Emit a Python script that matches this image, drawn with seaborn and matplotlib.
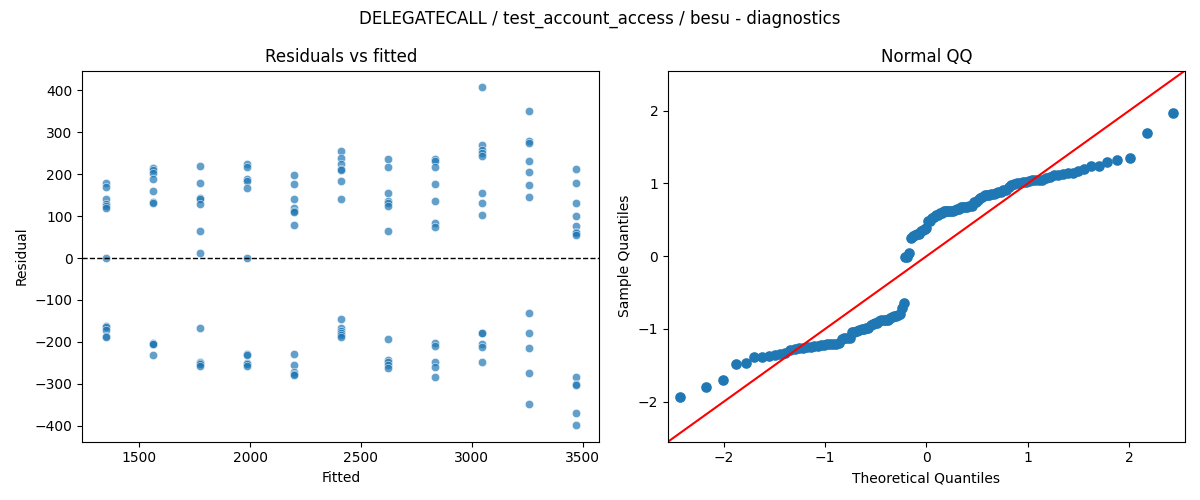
import numpy as np
import pandas as pd
import matplotlib
matplotlib.use('Agg')
import matplotlib.pyplot as plt
import seaborn as sns
from statistics import NormalDist

# fitted values (one per run group) and residuals
fitted_levels = [1349, 1561, 1773, 1985, 2197, 2409, 2621, 2833, 3045, 3257, 3469]

res_1349 = [180, 169, 141, 130, 125, 119, 0, -161, -165, -171, -187, -189]
res_1561 = [214, 210, 203, 188, 160, 133, 131, -202, -205, -206, -231]
res_1773 = [219, 179, 144, 140, 129, 64, 12, -167, -247, -250, -252, -258]
res_1985 = [225, 217, 188, 184, 167, 0, -230, -232, -251, -253, -257]
res_2197 = [198, 176, 141, 119, 113, 109, 79, -229, -256, -273, -277, -280]
res_2409 = [256, 238, 224, 212, 210, 183, 141, -145, -167, -173, -179, -183, -188]
res_2621 = [236, 217, 155, 135, 131, 125, 64, -193, -244, -248, -254, -263]
res_2833 = [237, 232, 218, 176, 136, 83, 74, -203, -209, -247, -260, -283]
res_3045 = [407, 269, 258, 250, 244, 156, 131, 102, -178, -180, -204, -212, -248]
res_3257 = [352, 279, 275, 231, 205, 174, 145, -131, -179, -214, -274, -348]
res_3469 = [212, 179, 131, 101, 77, 62, 59, 54, -283, -301, -303, -369, -398]

groups = [res_1349, res_1561, res_1773, res_1985, res_2197, res_2409,
          res_2621, res_2833, res_3045, res_3257, res_3469]

rows = []
for f, rs in zip(fitted_levels, groups):
    for r in rs:
        rows.append((f, r))
df = pd.DataFrame(rows, columns=['fitted', 'resid'])

fig, axes = plt.subplots(1, 2, figsize=(12, 5), dpi=100)

# residuals vs fitted
ax = axes[0]
sns.scatterplot(data=df, x='fitted', y='resid', alpha=0.7, ax=ax)
ax.axhline(0, color='black', linestyle='--', linewidth=1)
ax.set_title('Residuals vs fitted')
ax.set_xlabel('Fitted')
ax.set_ylabel('Residual')

# normal QQ of standardized residuals
ax = axes[1]
vals = np.sort(df['resid'].to_numpy(dtype=float))
n = len(vals)
sample_q = (vals - vals.mean()) / vals.std()
nd = NormalDist()
theo_q = np.array([nd.inv_cdf(i / (n + 1)) for i in range(1, n + 1)])
sns.scatterplot(x=theo_q, y=sample_q, color='#1f77b4', edgecolor='#1f77b4',
                s=44, linewidth=1, ax=ax)
lim = 2.55
ax.plot([-lim, lim], [-lim, lim], 'r-')
ax.set_xlim(-lim, lim)
ax.set_ylim(-lim, lim)
ax.set_title('Normal QQ')
ax.set_xlabel('Theoretical Quantiles')
ax.set_ylabel('Sample Quantiles')

plt.suptitle('DELEGATECALL / test_account_access / besu - diagnostics')
plt.tight_layout()
plt.savefig('out.png')
